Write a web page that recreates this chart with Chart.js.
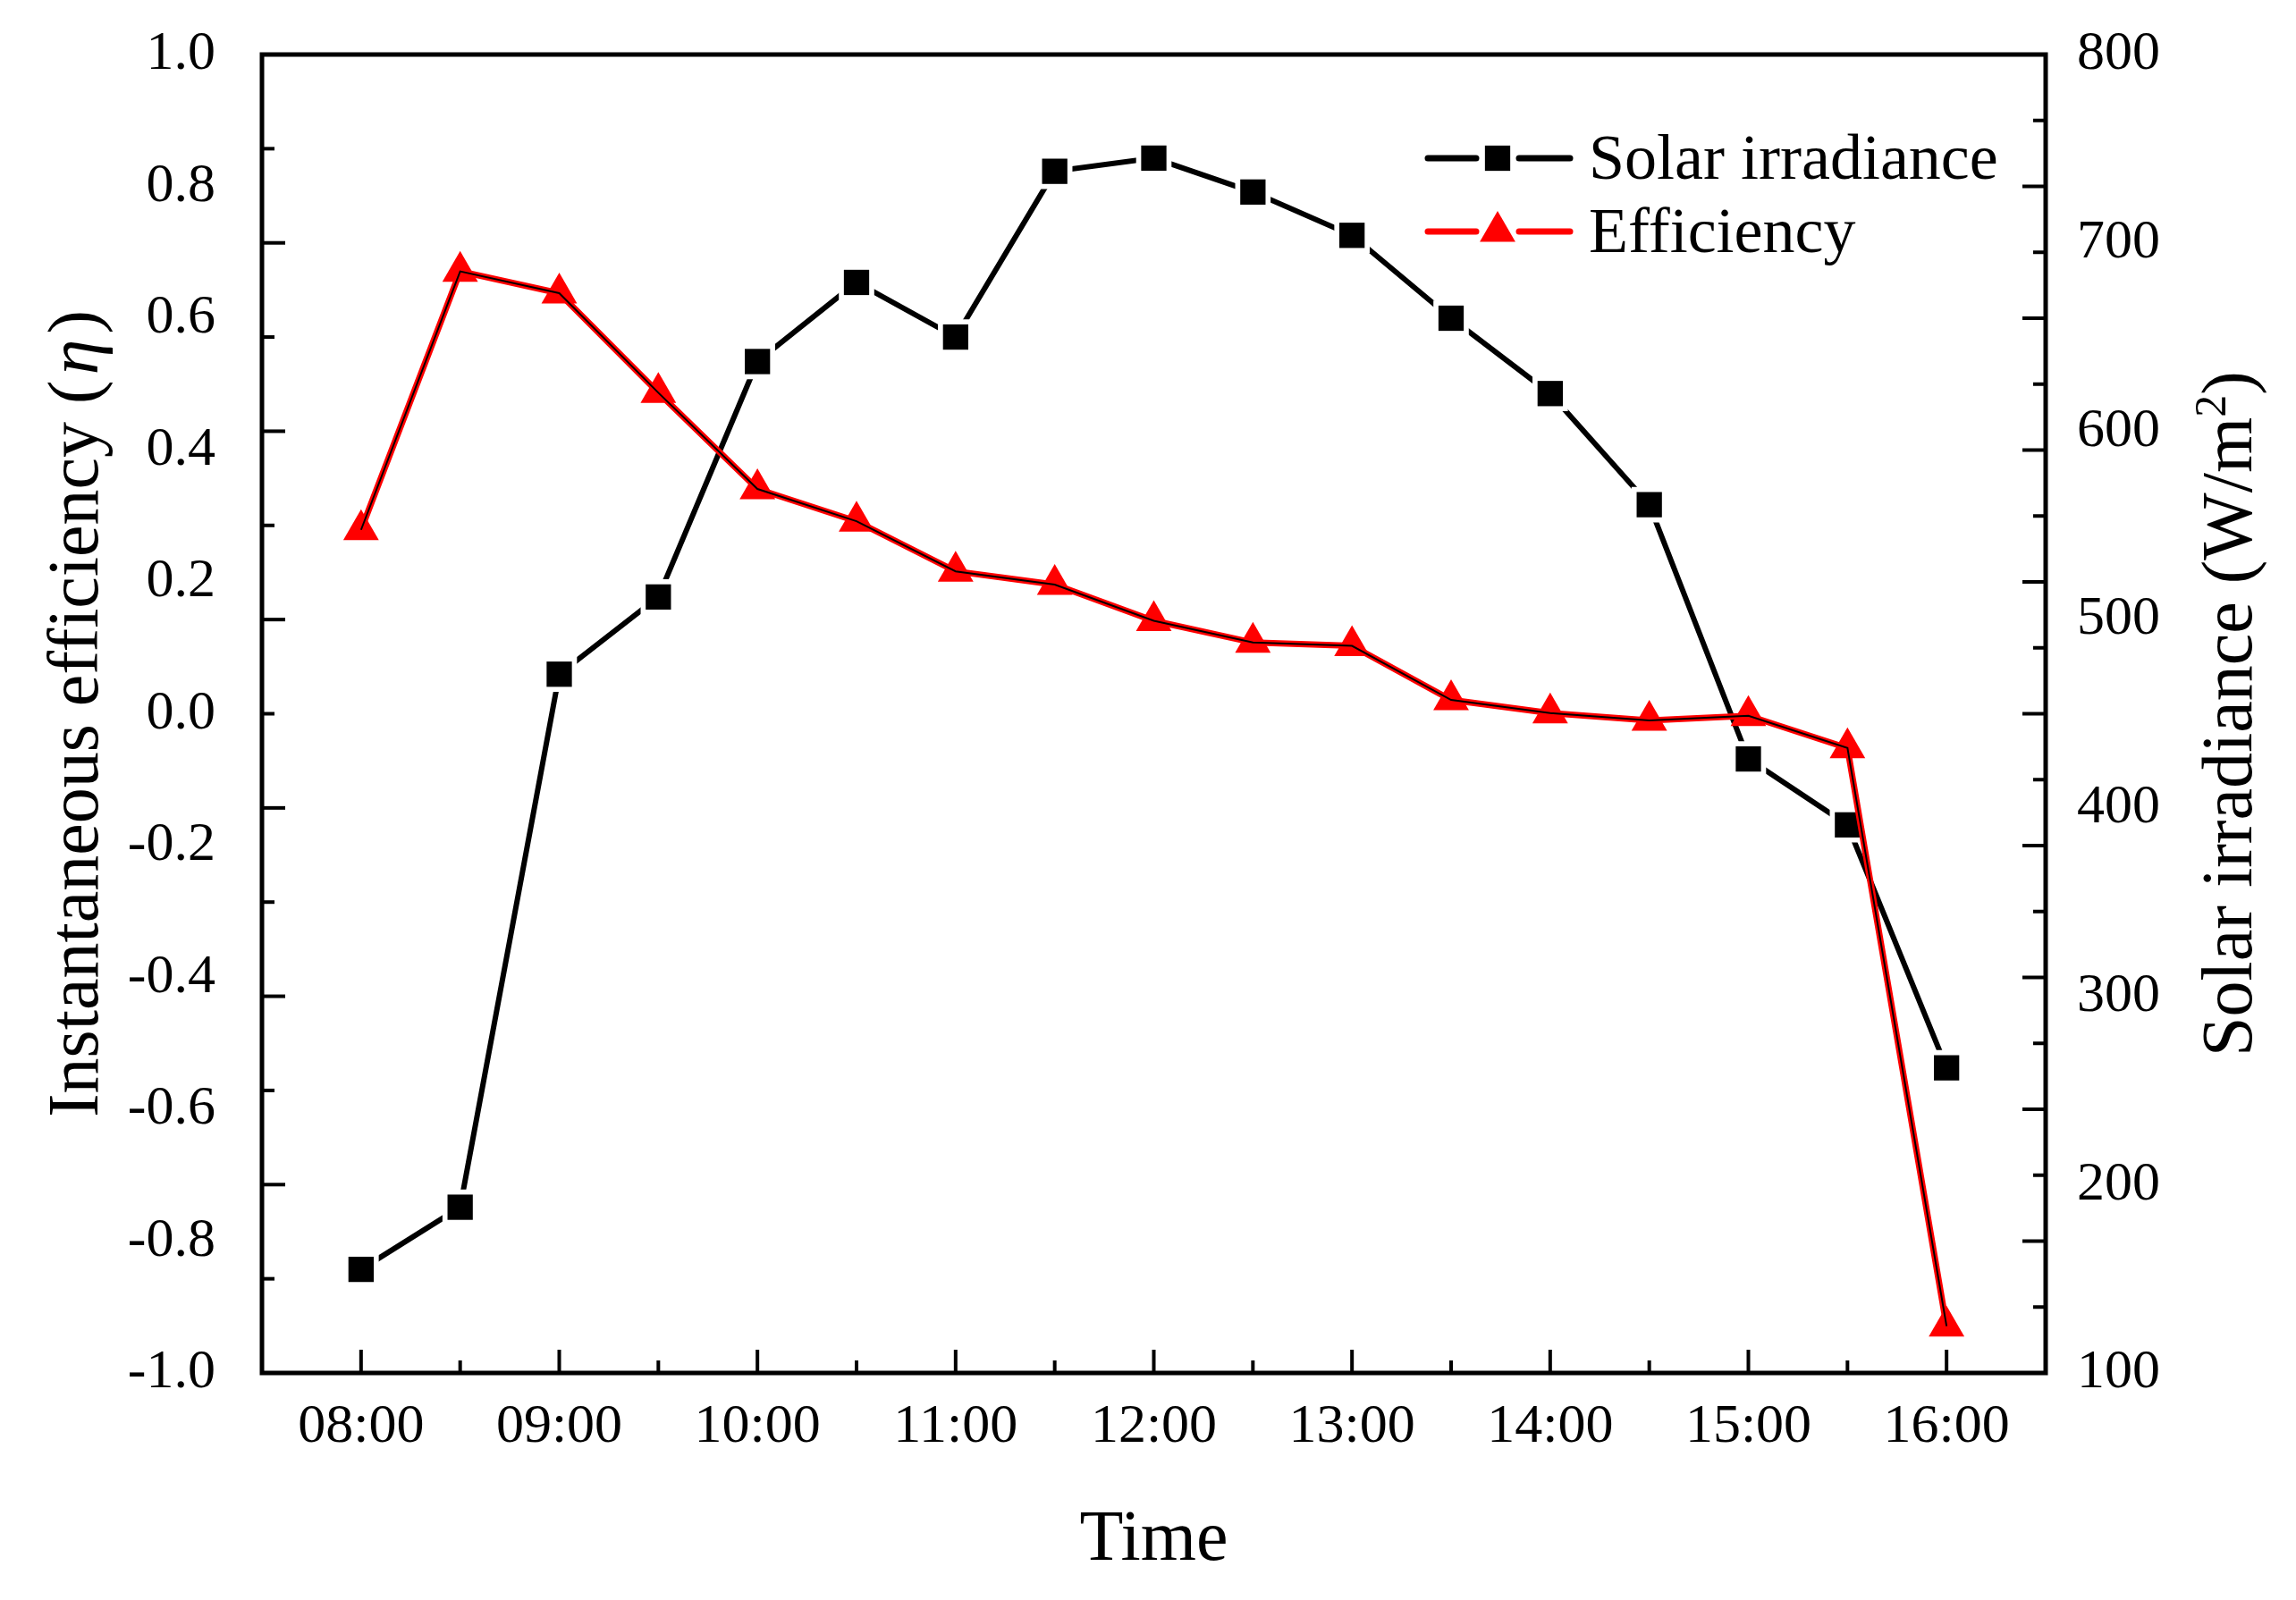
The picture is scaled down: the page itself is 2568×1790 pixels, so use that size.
<!DOCTYPE html>
<html><head><meta charset="utf-8">
<script src="https://cdn.jsdelivr.net/npm/chart.js@4.4.0/dist/chart.umd.min.js"></script>
<style>html,body{margin:0;padding:0;background:#fff;overflow:hidden}canvas{display:block}</style>
</head><body>
<canvas id="c" width="2568" height="1790" style="width:2568px;height:1790px"></canvas>
<script>
// ---- data ----
const times = ['08:00','08:30','09:00','09:30','10:00','10:30','11:00','11:30','12:00','12:30','13:00','13:30','14:00','14:30','15:00','15:30','16:00'];
const irradiance = [155,188,471,512,637,679,650,738,745,727,704,660,620,561,426,391,262];
const efficiency = [0.279,0.671,0.638,0.487,0.341,0.292,0.216,0.196,0.141,0.108,0.103,0.021,0.001,-0.010,-0.003,-0.052,-0.929];
const xTickLabels = ['08:00','09:00','10:00','11:00','12:00','13:00','14:00','15:00','16:00'];
const effTickLabels = ['-1.0','-0.8','-0.6','-0.4','-0.2','0.0','0.2','0.4','0.6','0.8','1.0'];
const irrTickLabels = ['100','200','300','400','500','600','700','800'];
const seriesNames = ['Solar irradiance','Efficiency'];
const xTitle = 'Time';

// ---- helpers ----
const toHours = t => { const p = t.split(':').map(Number); return p[0] + p[1] / 60; };
const irrPoints = times.map((t, i) => ({x: toHours(t), y: irradiance[i]}));
const effPoints = times.map((t, i) => ({x: toHours(t), y: efficiency[i]}));
const FONT = '"Liberation Serif","Times New Roman",serif';
const TICK_SIZE = 62, TITLE_SIZE = 80, LTITLE_SIZE = 80, LEG_SIZE = 72;

function tickFont(lh) { return {family: FONT, size: TICK_SIZE, lineHeight: lh || 1.2}; }

function drawRich(ctx, pieces, cx, cy, rot) {
  ctx.save();
  ctx.translate(cx, cy);
  ctx.rotate(rot);
  ctx.textBaseline = 'alphabetic';
  ctx.textAlign = 'left';
  let total = 0;
  pieces.forEach(p => { ctx.font = p.font; p.w = ctx.measureText(p.text).width + (p.gap || 0) * 2; total += p.w; });
  let x = -total / 2;
  pieces.forEach(p => { ctx.font = p.font; ctx.fillText(p.text, x + (p.gap || 0), p.dy || 0); x += p.w; });
  ctx.restore();
}

const decor = {
  id: 'decor',
  afterDraw(chart) {
    const {ctx, chartArea: a, scales: {x, y, y2}} = chart;
    ctx.save();
    ctx.strokeStyle = '#000';
    ctx.fillStyle = '#000';
    ctx.lineCap = 'butt';
    ctx.lineWidth = 4;
    const LONG = 26, SHORT = 14;
    // bottom ticks (hours and half hours)
    const xv = xTickLabels.map(toHours);
    const xAll = [];
    xv.forEach((v, i) => { xAll.push([v, true]); if (i < xv.length - 1) xAll.push([(v + xv[i + 1]) / 2, false]); });
    xAll.forEach(([v, major]) => {
      const px = x.getPixelForValue(v);
      ctx.beginPath(); ctx.moveTo(px, a.bottom); ctx.lineTo(px, a.bottom - (major ? LONG : SHORT)); ctx.stroke();
    });
    // left axis line: ticks at irradiance grid (inward)
    const iv = irrTickLabels.map(Number);
    const iAll = [];
    iv.forEach((v, i) => { if (i > 0 && i < iv.length - 1) iAll.push([v, true]); if (i < iv.length - 1) iAll.push([(v + iv[i + 1]) / 2, false]); });
    iAll.forEach(([v, major]) => {
      const py = y2.getPixelForValue(v);
      ctx.beginPath(); ctx.moveTo(a.left, py); ctx.lineTo(a.left + (major ? LONG : SHORT), py); ctx.stroke();
    });
    // right axis line: ticks at efficiency grid (inward)
    const ev = effTickLabels.map(Number);
    const eAll = [];
    ev.forEach((v, i) => { if (i > 0 && i < ev.length - 1) eAll.push([v, true]); if (i < ev.length - 1) eAll.push([(v + ev[i + 1]) / 2, false]); });
    eAll.forEach(([v, major]) => {
      const py = y.getPixelForValue(v);
      ctx.beginPath(); ctx.moveTo(a.right, py); ctx.lineTo(a.right - (major ? LONG : SHORT), py); ctx.stroke();
    });
    // frame
    ctx.lineWidth = 5;
    ctx.strokeRect(a.left, a.top, a.right - a.left, a.bottom - a.top);

    // titles
    const lnf = LTITLE_SIZE + 'px ' + FONT;
    const litf = 'italic ' + LTITLE_SIZE + 'px ' + FONT;
    const nf = TITLE_SIZE + 'px ' + FONT;
    const sf = Math.round(TITLE_SIZE * 0.62) + 'px ' + FONT;
    const cy = (a.top + a.bottom) / 2;
    drawRich(ctx, [
      {text: 'Instantaneous efficiency (', font: lnf},
      {text: 'η', font: litf, gap: 6},
      {text: ')', font: lnf}
    ], 109, cy, -Math.PI / 2);
    drawRich(ctx, [
      {text: 'Solar irradiance (W/m', font: nf},
      {text: '2', font: sf, dy: -Math.round(TITLE_SIZE * 0.36)},
      {text: ')', font: nf}
    ], 2518, cy, -Math.PI / 2);
    drawRich(ctx, [{text: xTitle, font: nf}], (a.left + a.right) / 2, 1745, 0);

    // legend
    const ds = chart.data.datasets;
    const mx = 1675, tx = 1777;
    const segs = [[1597, 1651], [1699, 1756]];
    const rows = [177, 259], base = [200, 282];
    ctx.lineCap = 'round';
    const legLine = (color, yy) => {
      ctx.strokeStyle = color; ctx.lineWidth = 7;
      segs.forEach(([s0, s1]) => { ctx.beginPath(); ctx.moveTo(s0, yy); ctx.lineTo(s1, yy); ctx.stroke(); });
    };
    // row 1: irradiance
    legLine(ds[0].borderColor, rows[0]);
    const mr = ds[2].pointRadius * Math.SQRT1_2;
    ctx.fillStyle = ds[2].pointBackgroundColor; ctx.fillRect(mx - mr, rows[0] - mr, 2 * mr, 2 * mr);
    // row 2: efficiency
    legLine(ds[3].borderColor, rows[1]);
    const tr = ds[3].pointRadius;
    ctx.fillStyle = ds[3].pointBackgroundColor;
    ctx.beginPath();
    for (let k = 0; k < 3; k++) {
      const ang = k * 2 * Math.PI / 3;
      const px = mx + Math.sin(ang) * tr, py = rows[1] - Math.cos(ang) * tr;
      if (k === 0) ctx.moveTo(px, py); else ctx.lineTo(px, py);
    }
    ctx.closePath(); ctx.fill();
    // legend text
    ctx.fillStyle = '#000';
    ctx.font = LEG_SIZE + 'px ' + FONT;
    ctx.textAlign = 'left'; ctx.textBaseline = 'alphabetic';
    ctx.fillText(seriesNames[0], tx, base[0]);
    ctx.fillText(seriesNames[1], tx, base[1]);
    ctx.restore();
  }
};

new Chart(document.getElementById('c'), {
  type: 'line',
  data: {
    datasets: [
      {label: seriesNames[0], data: irrPoints, yAxisID: 'y2', borderColor: '#000', borderWidth: 6,
       pointRadius: 0, tension: 0, order: 6, clip: false},
      {label: 'halo', data: irrPoints, yAxisID: 'y2', showLine: false, pointStyle: 'rect',
       pointRadius: 28, pointBackgroundColor: '#fff', pointBorderWidth: 0, order: 5, clip: false},
      {label: 'marker', data: irrPoints, yAxisID: 'y2', showLine: false, pointStyle: 'rect',
       pointRadius: 20, pointBackgroundColor: '#000', pointBorderWidth: 0, order: 4, clip: false},
      {label: seriesNames[1], data: effPoints, yAxisID: 'y', borderColor: '#ff0000', borderWidth: 7,
       pointStyle: 'triangle', pointRadius: 23, pointBackgroundColor: '#ff0000', pointBorderWidth: 0,
       tension: 0, order: 3, clip: false},
      {label: 'core', data: effPoints, yAxisID: 'y', borderColor: '#000', borderWidth: 2,
       pointRadius: 0, tension: 0, order: 2, clip: false}
    ]
  },
  options: {
    responsive: false,
    devicePixelRatio: 1,
    animation: false,
    layout: {padding: {top: 61, left: 0, right: 0, bottom: 0}},
    plugins: {legend: {display: false}, tooltip: {enabled: false}},
    scales: {
      x: {
        type: 'linear', min: 7.5, max: 16.5,
        afterBuildTicks: s => { s.ticks = xTickLabels.map(l => ({value: toHours(l)})); },
        afterFit: s => { s.height = 254; },
        grid: {display: false, drawTicks: false, tickLength: 0},
        border: {display: false},
        ticks: {autoSkip: false, maxRotation: 0, minRotation: 0, padding: 24, color: '#000', font: tickFont(),
                callback: (v, i) => xTickLabels[i]}
      },
      y: {
        position: 'left', min: -1, max: 1,
        afterBuildTicks: s => { s.ticks = effTickLabels.map(l => ({value: parseFloat(l)})); },
        afterFit: s => { s.width = 293; },
        grid: {display: false, drawTicks: false, tickLength: 0},
        border: {display: false},
        ticks: {autoSkip: false, padding: 52, color: '#000', font: tickFont(0.2),
                callback: (v, i) => effTickLabels[i]}
      },
      y2: {
        position: 'right', min: 100, max: 800,
        afterBuildTicks: s => { s.ticks = irrTickLabels.map(l => ({value: Number(l)})); },
        afterFit: s => { s.width = 280; },
        grid: {display: false, drawTicks: false, tickLength: 0},
        border: {display: false},
        ticks: {autoSkip: false, padding: 35, color: '#000', font: tickFont(0.2),
                callback: (v, i) => irrTickLabels[i]}
      }
    }
  },
  plugins: [decor]
});
</script>
</body></html>
